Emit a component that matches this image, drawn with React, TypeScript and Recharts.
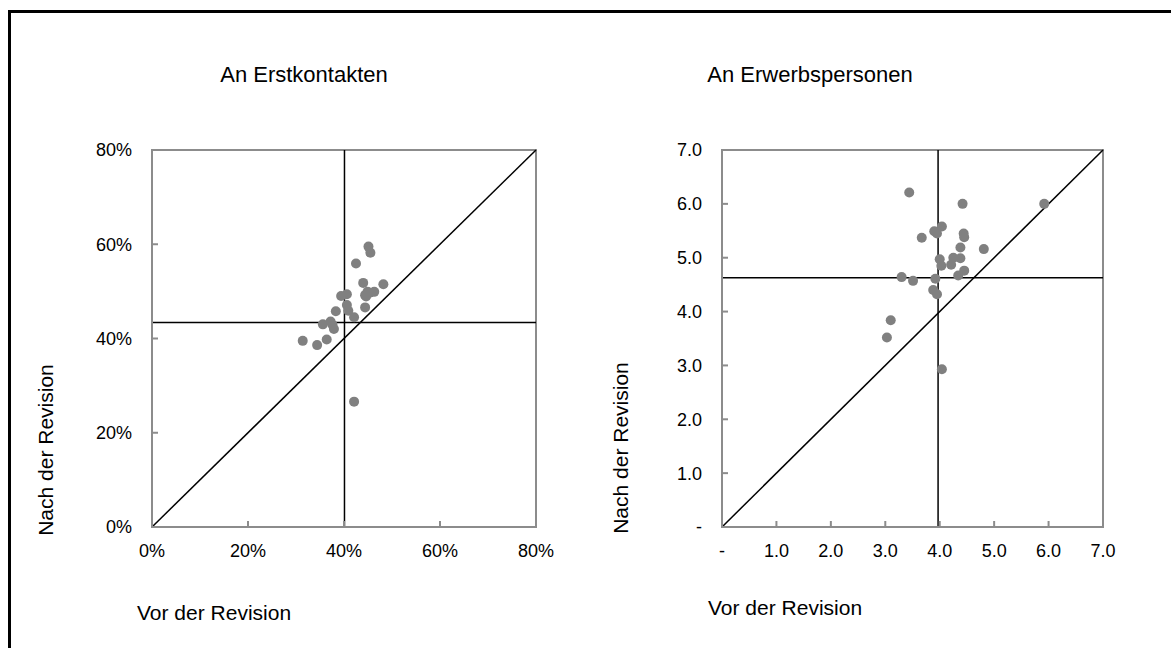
import React from "react";
import {
  ScatterChart,
  Scatter,
  XAxis,
  YAxis,
  ReferenceLine,
  ReferenceArea,
} from "recharts";

// An Erstkontakten (shares, 0..1)
const erstVor = [
  0.451, 0.455, 0.425, 0.44, 0.482, 0.394, 0.406, 0.444, 0.449, 0.454, 0.463,
  0.446, 0.406, 0.383, 0.409, 0.444, 0.421, 0.356, 0.372, 0.376, 0.379, 0.364,
  0.314, 0.344, 0.421,
];
const erstNach = [
  0.595, 0.582, 0.559, 0.518, 0.515, 0.49, 0.494, 0.492, 0.499, 0.497, 0.499,
  0.489, 0.471, 0.458, 0.459, 0.466, 0.445, 0.43, 0.436, 0.429, 0.42, 0.398,
  0.395, 0.386, 0.266,
];
const erstMeanX = 0.401;
const erstMeanY = 0.434;
const erstTicks = [0, 0.2, 0.4, 0.6, 0.8];

// An Erwerbspersonen
const erwVor = [
  3.44, 4.42, 4.04, 3.9, 3.95, 3.67, 4.44, 4.45, 4.38, 4.25, 4.38, 4.0, 4.03,
  4.21, 4.45, 4.34, 3.3, 3.51, 3.92, 3.88, 3.95, 3.1, 3.03, 4.04, 5.92, 4.81,
];
const erwNach = [
  6.21, 6.0, 5.58, 5.49, 5.45, 5.37, 5.45, 5.38, 5.19, 5.0, 4.99, 4.97, 4.85,
  4.87, 4.76, 4.67, 4.64, 4.57, 4.61, 4.4, 4.32, 3.84, 3.52, 2.93, 6.0, 5.16,
];
const erwMeanX = 3.97;
const erwMeanY = 4.63;
const erwTicks = [0, 1, 2, 3, 4, 5, 6, 7];

const FONT = "'Liberation Sans', Arial, sans-serif";
const BOX = "#8c8c8c";

const pct = (v: number) => `${Math.round(v * 100)}%`;
const dec = (v: number) => (v === 0 ? "-" : v.toFixed(1));

const dot = (p: any) => (
  <circle cx={p.cx} cy={p.cy} r={5} fill="#808080" />
);

function Panel(props: {
  xs: number[];
  ys: number[];
  max: number;
  ticks: number[];
  fmt: (v: number) => string;
  meanX: number;
  meanY: number;
  width: number;
  marginLeft: number;
  marginRight: number;
}) {
  const data = props.xs.map((x, i) => ({ x, y: props.ys[i] }));
  const tickStyle = { fontSize: 18, fill: "#000", fontFamily: FONT };
  return (
    <ScatterChart
      width={props.width}
      height={648}
      margin={{
        top: 150,
        right: props.marginRight,
        bottom: 81,
        left: props.marginLeft,
      }}
    >
      <XAxis
        type="number"
        dataKey="x"
        domain={[0, props.max]}
        ticks={props.ticks}
        tickFormatter={props.fmt}
        height={40}
        tickSize={-6}
        tickMargin={23}
        tick={tickStyle}
        axisLine={{ stroke: BOX, strokeWidth: 2 }}
        tickLine={{ stroke: BOX, strokeWidth: 2 }}
        interval={0}
      />
      <YAxis
        type="number"
        dataKey="y"
        domain={[0, props.max]}
        ticks={props.ticks}
        tickFormatter={props.fmt}
        width={60}
        tickSize={-6}
        tickMargin={26}
        tick={tickStyle}
        axisLine={{ stroke: BOX, strokeWidth: 2 }}
        tickLine={{ stroke: BOX, strokeWidth: 2 }}
        interval={0}
      />
      <ReferenceArea
        x1={0}
        x2={props.max}
        y1={0}
        y2={props.max}
        fill="none"
        fillOpacity={0}
        stroke={BOX}
        strokeWidth={2}
      />
      <ReferenceLine
        segment={[
          { x: 0, y: 0 },
          { x: props.max, y: props.max },
        ]}
        stroke="#000"
        strokeWidth={1.5}
      />
      <ReferenceLine x={props.meanX} stroke="#000" strokeWidth={1.5} />
      <ReferenceLine y={props.meanY} stroke="#000" strokeWidth={1.5} />
      <Scatter data={data} shape={dot} isAnimationActive={false} />
    </ScatterChart>
  );
}

const textBase: React.CSSProperties = {
  position: "absolute",
  fontFamily: FONT,
  color: "#000",
  whiteSpace: "nowrap",
  lineHeight: 1,
};

export default function App() {
  return (
    <div
      style={{
        position: "fixed",
        left: 0,
        top: 0,
        width: 1171,
        height: 648,
        background: "#fff",
        overflow: "hidden",
      }}
    >
      <div
        style={{
          position: "absolute",
          left: 8,
          top: 10,
          width: 1200,
          height: 700,
          borderTop: "3px solid #000",
          borderLeft: "3px solid #000",
        }}
      />
      <div style={{ position: "absolute", left: 0, top: 0 }}>
        <Panel
          xs={erstVor}
          ys={erstNach}
          max={0.8}
          ticks={erstTicks}
          fmt={pct}
          meanX={erstMeanX}
          meanY={erstMeanY}
          width={580}
          marginLeft={92}
          marginRight={44}
        />
      </div>
      <div style={{ position: "absolute", left: 580, top: 0 }}>
        <Panel
          xs={erwVor}
          ys={erwNach}
          max={7}
          ticks={erwTicks}
          fmt={dec}
          meanX={erwMeanX}
          meanY={erwMeanY}
          width={591}
          marginLeft={82}
          marginRight={68}
        />
      </div>

      <div
        style={{
          ...textBase,
          fontSize: 22,
          left: 304,
          top: 75,
          transform: "translate(-50%, -50%)",
        }}
      >
        An Erstkontakten
      </div>
      <div
        style={{
          ...textBase,
          fontSize: 22,
          left: 810,
          top: 75,
          transform: "translate(-50%, -50%)",
        }}
      >
        An Erwerbspersonen
      </div>

      <div
        style={{
          ...textBase,
          fontSize: 21,
          left: 45,
          top: 450,
          transform: "translate(-50%, -50%) rotate(-90deg)",
        }}
      >
        Nach der Revision
      </div>
      <div
        style={{
          ...textBase,
          fontSize: 21,
          left: 620,
          top: 448,
          transform: "translate(-50%, -50%) rotate(-90deg)",
        }}
      >
        Nach der Revision
      </div>

      <div style={{ ...textBase, fontSize: 21, left: 137, top: 602 }}>
        Vor der Revision
      </div>
      <div style={{ ...textBase, fontSize: 21, left: 708, top: 597 }}>
        Vor der Revision
      </div>
    </div>
  );
}
